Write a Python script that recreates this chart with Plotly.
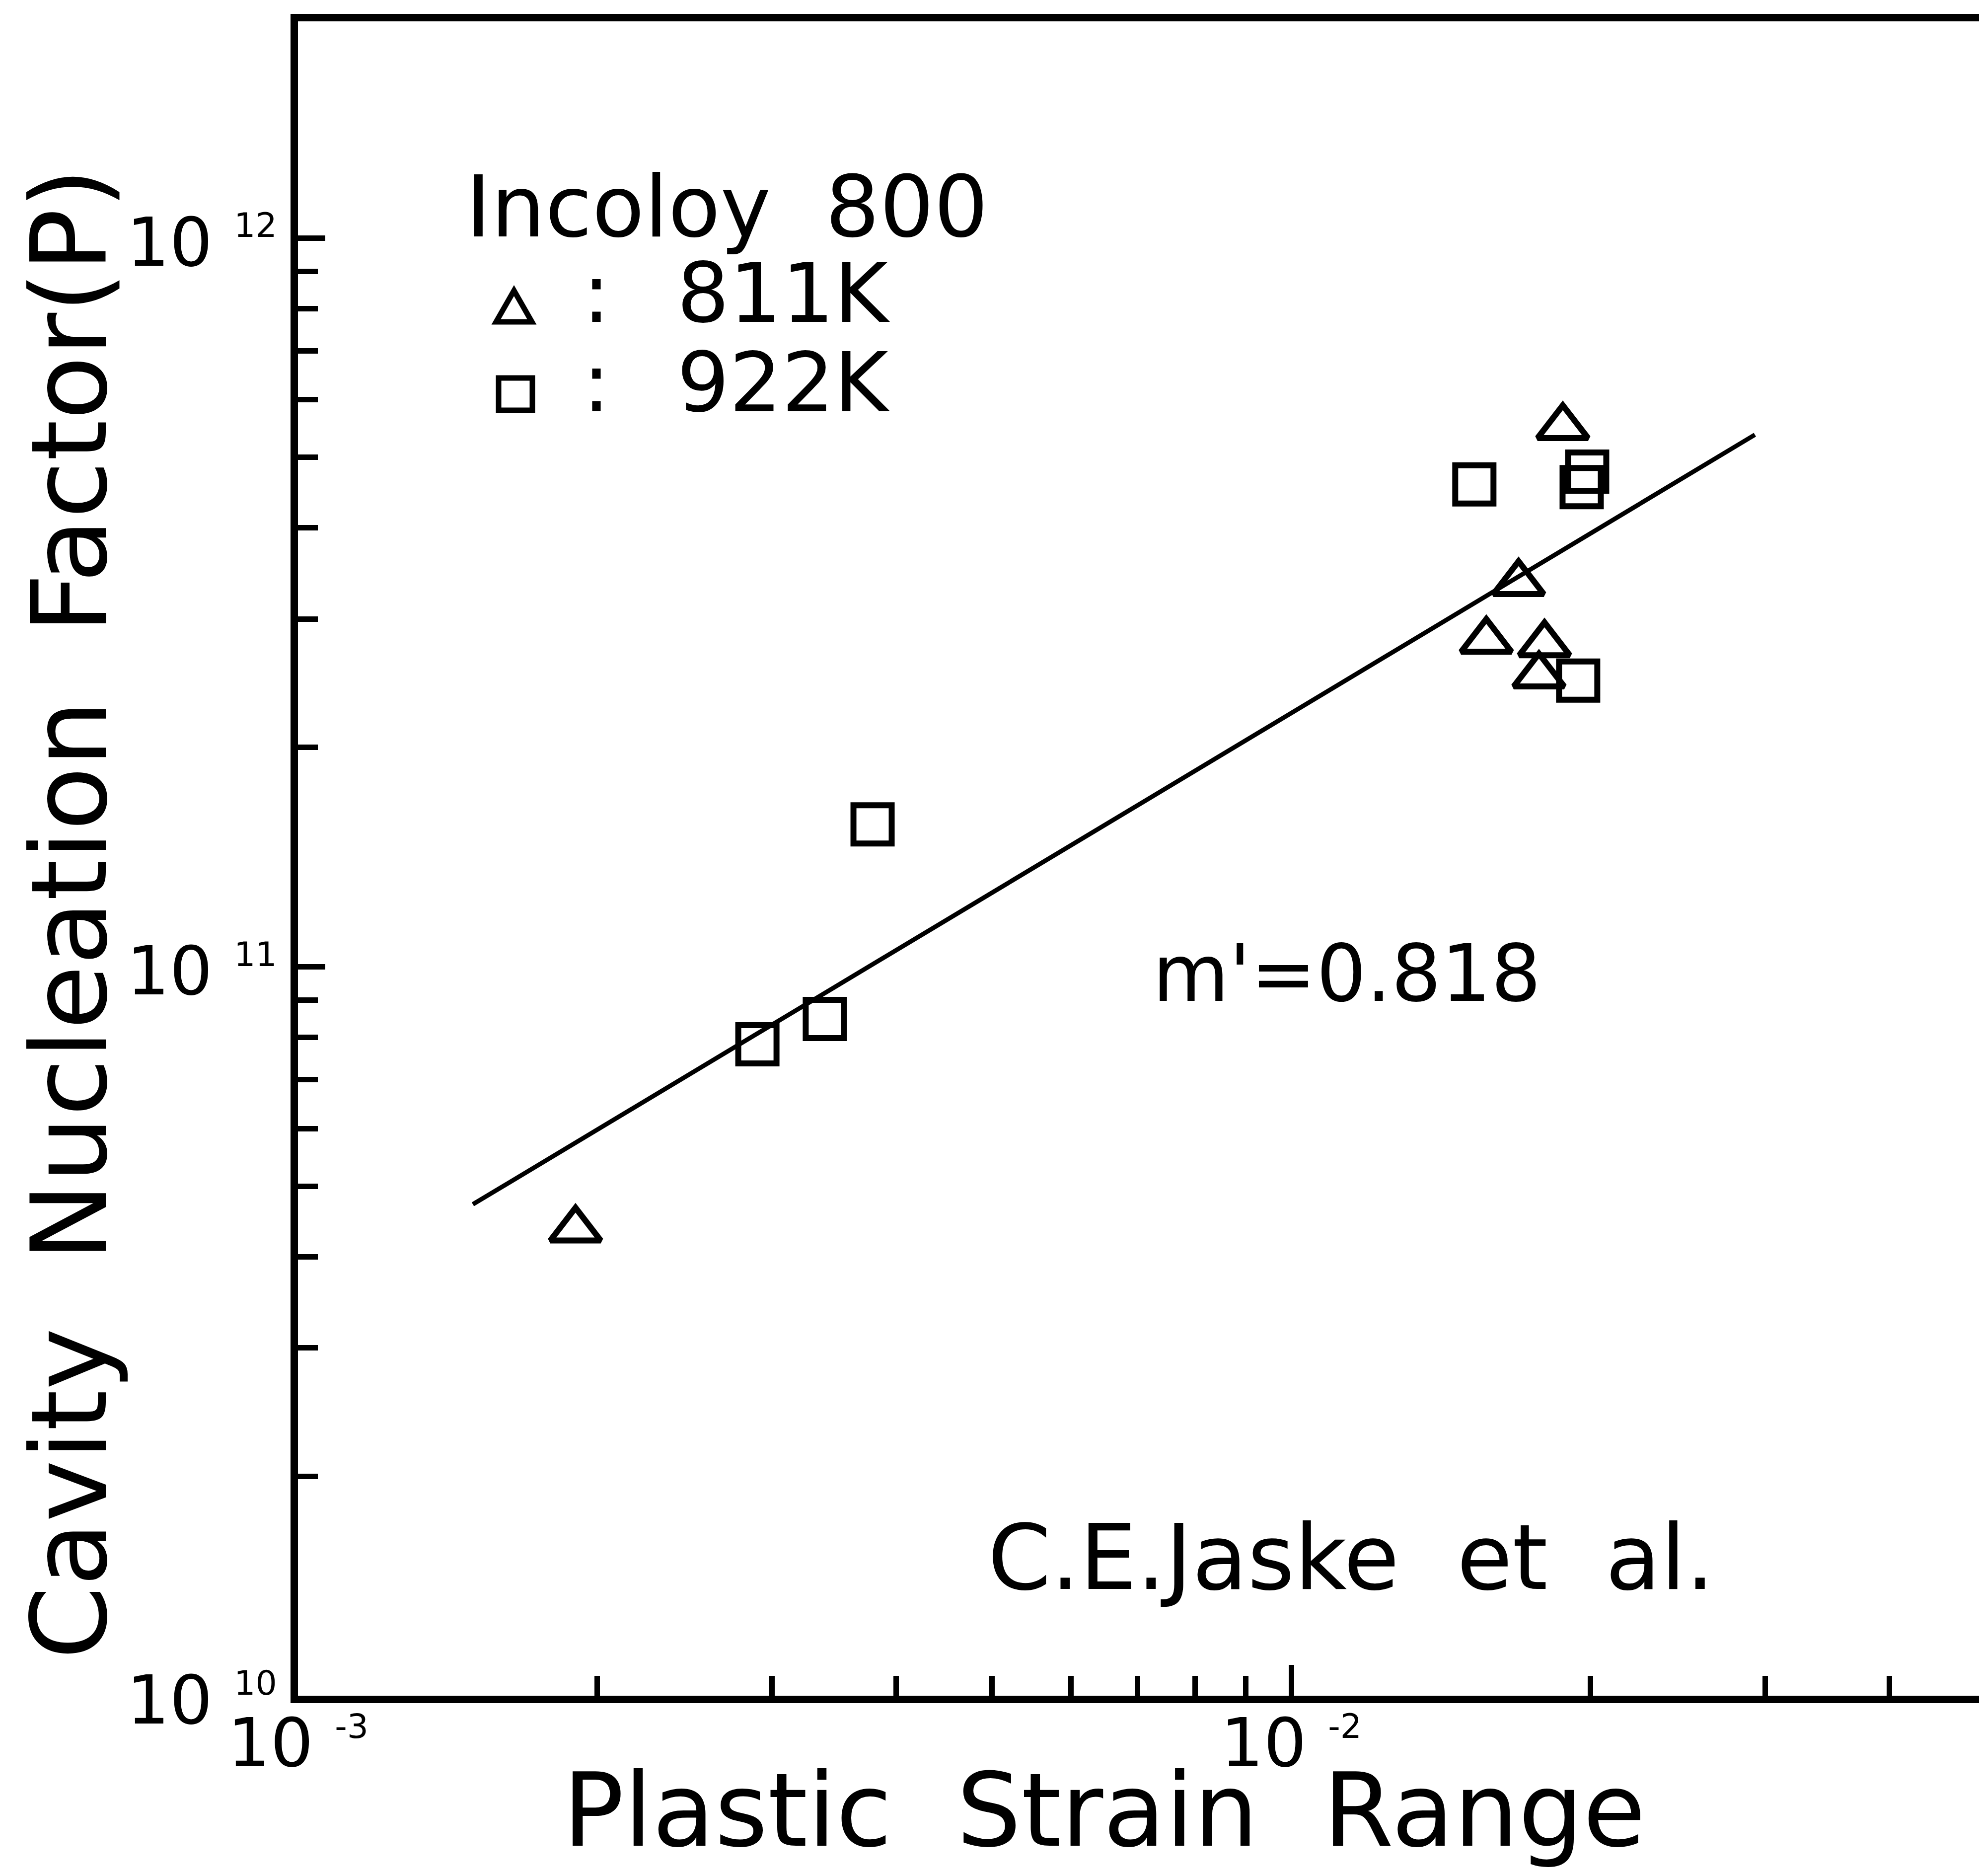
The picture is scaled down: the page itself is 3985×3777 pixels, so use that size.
import plotly.graph_objects as go

# ---- data: Incoloy 800, cavity nucleation factor vs plastic strain range ----
strain_811K = [1.903e-3, 1.877e-2, 1.694e-2, 1.572e-2, 1.799e-2, 1.776e-2]
p_811K = [4.36e10, 5.50e11, 3.36e11, 2.80e11, 2.77e11, 2.51e11]

strain_922K = [2.901e-3, 3.392e-3, 3.789e-3, 1.529e-2, 1.986e-2, 1.961e-2, 1.945e-2]
p_922K = [7.83e10, 8.48e10, 1.568e11, 4.59e11, 4.78e11, 4.55e11, 2.47e11]

# regression line P = C * (strain)^m'
fit_slope = 0.818
fit_coef = 9.64e12
fit_strain = [1.50e-3, 2.93e-2]
fit_p = [fit_coef * s ** fit_slope for s in fit_strain]

SUP = "<sup><span style='font-size:68px'>{}</span></sup>"
x_major = [1e-3, 1e-2]
x_major_text = ["10\u00a0" + SUP.format("-3"), "10\u00a0" + SUP.format("-2")]
x_minor = [2e-3, 3e-3, 4e-3, 5e-3, 6e-3, 7e-3, 8e-3, 9e-3, 2e-2, 3e-2, 4e-2]
y_major = [1e10, 1e11, 1e12]
y_major_text = ["10\u00a0" + SUP.format("10"), "10\u00a0" + SUP.format("11"),
                "10\u00a0" + SUP.format("12")]
y_minor = [m * 1e10 for m in range(2, 10)] + [m * 1e11 for m in range(2, 10)]

# ---- page geometry (pixels) ----
W, H = 3985, 3777
L, R, T, B = 600, 3985, 43, 3414
FONT = "DejaVu Sans"
INK = "black"


def fx(px):
    return (px - L) / (R - L)


def fy(py):
    return (B - py) / (B - T)


fig = go.Figure()

fig.add_trace(go.Scatter(
    x=fit_strain, y=fit_p, mode="lines",
    line=dict(color=INK, width=9), showlegend=False, hoverinfo="skip"))

fig.add_trace(go.Scatter(
    x=strain_811K, y=p_811K, mode="markers", name="811K",
    marker=dict(symbol="triangle-up-open", size=88, color=INK,
                line=dict(width=12, color=INK)),
    showlegend=False))

fig.add_trace(go.Scatter(
    x=strain_922K, y=p_922K, mode="markers", name="922K",
    marker=dict(symbol="square-open", size=77, color=INK,
                line=dict(width=12, color=INK)),
    showlegend=False))

tick_font = dict(family=FONT, size=136, color=INK)

fig.update_xaxes(
    type="log", range=[-3, -3 + (R - L) / 2000.0],
    showline=True, linecolor=INK, linewidth=15, mirror=True,
    showgrid=False, zeroline=False,
    tickmode="array", tickvals=x_major, ticktext=x_major_text,
    ticks="inside", ticklen=62, tickwidth=11, tickcolor=INK,
    tickfont=tick_font, automargin=False, ticklabelstandoff=-36,
    minor=dict(tickmode="array", tickvals=x_minor, ticks="inside",
               ticklen=40, tickwidth=11, tickcolor=INK, showgrid=False),
)
fig.update_yaxes(
    type="log", range=[10, 10 + (B - T) / 1467.5],
    showline=True, linecolor=INK, linewidth=15, mirror=False,
    showgrid=False, zeroline=False,
    tickmode="array", tickvals=y_major, ticktext=y_major_text,
    ticks="inside", ticklen=55, tickwidth=11, tickcolor=INK,
    tickfont=tick_font, automargin=False, ticklabelshift=8,
    minor=dict(tickmode="array", tickvals=y_minor, ticks="inside",
               ticklen=40, tickwidth=11, tickcolor=INK, showgrid=False),
)


def label(text, px, py, size, xanchor="left", angle=0):
    fig.add_annotation(
        text=text, xref="paper", yref="paper", x=fx(px), y=fy(py),
        xanchor=xanchor, yanchor="middle", showarrow=False, textangle=angle,
        font=dict(family=FONT, size=size, color=INK))


NB2 = "\u00a0\u00a0"

# axis titles
label("Plastic" + NB2 + "Strain" + NB2 + "Range", 2223, 3645, 205, xanchor="center")
label("Cavity" + NB2 + "Nucleation" + NB2 + "Factor(P)", 140, 1840, 211,
      xanchor="center", angle=-90)

# key
label("Incoloy" + NB2 + "800", 936, 417, 172)
label(":", 1201, 591, 166, xanchor="center")
label("811K", 1361, 591, 166)
label(":", 1201, 770, 166, xanchor="center")
label("922K", 1361, 770, 166)

# notes
label("m'=0.818", 2319, 1960, 158)
label("C.E.Jaske" + NB2 + "et" + NB2 + "al.", 1987, 3136, 182)

# key symbols
fig.add_shape(type="path", xref="paper", yref="paper",
              path="M {:.5f},{:.5f} L {:.5f},{:.5f} L {:.5f},{:.5f} Z".format(
                  fx(999), fy(648), fx(1071), fy(648), fx(1035), fy(585)),
              line=dict(color=INK, width=11), fillcolor="rgba(0,0,0,0)")
fig.add_shape(type="rect", xref="paper", yref="paper",
              x0=fx(1004), x1=fx(1072), y0=fy(761), y1=fy(826),
              line=dict(color=INK, width=11), fillcolor="rgba(0,0,0,0)")

fig.update_layout(
    width=W, height=H,
    margin=dict(l=L, r=W - R, t=T, b=H - B, pad=0),
    paper_bgcolor="white", plot_bgcolor="white",
    showlegend=False,
    font=dict(family=FONT, color=INK),
)

fig.write_html("out.html")
